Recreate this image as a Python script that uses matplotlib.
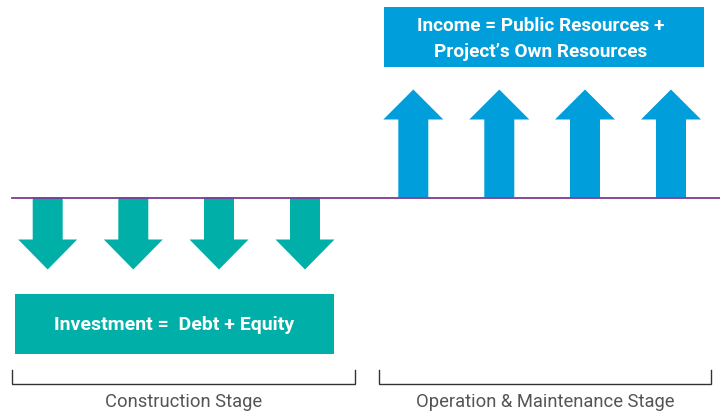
import matplotlib.pyplot as plt
from matplotlib.patches import Rectangle

# arrow centres (pixels) and stage definitions
down_x = [47.7, 133.3, 219.0, 305.0]
up_x = [413.3, 499.3, 585.0, 671.0]
stages = ['Construction Stage', 'Operation & Maintenance Stage']
stage_span = [(12, 355), (378.5, 711)]
box_text = ['Investment =  Debt + Equity', 'Income = Public Resources +\nProject\u2019s Own Resources']

teal = '#00b0a8'
blue = '#009fdb'
purple = '#7d3a91'
fonts = ['Roboto', 'DejaVu Sans']

fig = plt.figure(figsize=(7.2, 4.14), dpi=100)
ax = fig.add_axes([0, 0, 1, 1])
ax.set_xlim(0, 720)
ax.set_ylim(414, 0)
ax.axis('off')

base = 198.5
# down arrows (investment)
for x in down_x:
    ax.arrow(x, base, 0, 72, width=30, head_width=59, head_length=30,
             length_includes_head=True, color=teal, lw=0, zorder=2)
# up arrows (income)
for x in up_x:
    ax.arrow(x, base, 0, -108, width=30, head_width=60, head_length=30,
             length_includes_head=True, color=blue, lw=0, zorder=2)

ax.plot([12, 720], [base, base], color=purple, lw=1.3, zorder=3)

# boxes
ax.add_patch(Rectangle((15, 294.5), 319, 60, color=teal, lw=0))
ax.text(174.5, 325, box_text[0], color='white', fontsize=14, fontweight='bold',
        ha='center', va='center', family=fonts)
ax.add_patch(Rectangle((384, 8), 319.5, 60, color=blue, lw=0))
ax.text(541, 39, box_text[1], color='white', fontsize=13.7, fontweight='bold',
        ha='center', va='center', family=fonts, linespacing=1.6)

# brackets + stage labels
for (x0, x1), lab in zip(stage_span, stages):
    ax.plot([x0, x0, x1, x1], [371, 385, 385, 371], color='#333333', lw=1.0,
            solid_joinstyle='miter')
    ax.text((x0 + x1) / 2, 402, lab, color='#555555', fontsize=13.2,
            ha='center', va='center', family=fonts)

fig.savefig('out.png', dpi=100)
